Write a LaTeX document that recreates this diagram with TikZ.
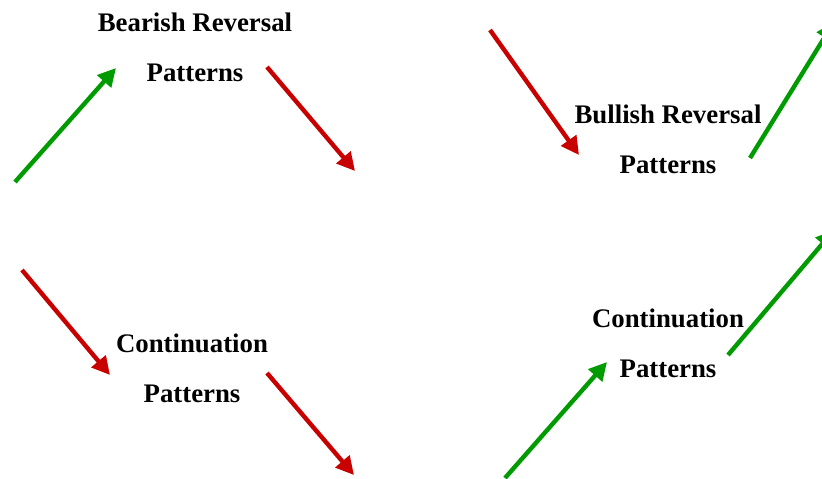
\documentclass[tikz,border=0pt]{standalone}
\usepackage{fontspec}
\setmainfont{Liberation Serif}
\usepackage{tikz}
\usetikzlibrary{arrows.meta}
\usetikzlibrary{positioning}
\definecolor{upgreen}{RGB}{0,155,0}
\definecolor{downred}{RGB}{200,0,0}
\tikzstyle{pattern} = [font=\bfseries\fontsize{13.4}{25}\selectfont, align=center]
\tikzstyle{up} = [draw=upgreen, line width=2.2pt, -{Triangle[length=9pt,width=9pt]}]
\tikzstyle{down} = [draw=downred, line width=2.2pt, -{Triangle[length=9pt,width=9pt]}]

\begin{document}
\begin{tikzpicture}[x=0.5pt, y=-0.5pt]
\useasboundingbox (0,0) rectangle (822,478);

% labels
\node[pattern] (bear) at (195,47) {Bearish Reversal\\Patterns};
\node[pattern] (bull) at (668,139) {Bullish Reversal\\Patterns};
\node[pattern] (contdown) at (192,368) {Continuation\\Patterns};
\node[pattern] (contup) at (668,343) {Continuation\\Patterns};

% arrow ends
\coordinate (a1) at (15,182);  \coordinate (b1) at (116,68);
\coordinate (a2) at (267,67);  \coordinate (b2) at (355,171);
\coordinate (a3) at (490,30);  \coordinate (b3) at (579,155);
\coordinate (a4) at (750,158); \coordinate (b4) at (834,22);
\coordinate (a5) at (22,270);  \coordinate (b5) at (110,375);
\coordinate (a6) at (267,373); \coordinate (b6) at (354,475);
\coordinate (a7) at (505,478); \coordinate (b7) at (607,362);
\coordinate (a8) at (728,355); \coordinate (b8) at (834,230);

\draw[up] (a1) -- (b1);
\draw[down] (a2) -- (b2);
\draw[down] (a3) -- (b3);
\draw[up] (a4) -- (b4);
\draw[down] (a5) -- (b5);
\draw[down] (a6) -- (b6);
\draw[up] (a7) -- (b7);
\draw[up] (a8) -- (b8);

\end{tikzpicture}
\end{document}
